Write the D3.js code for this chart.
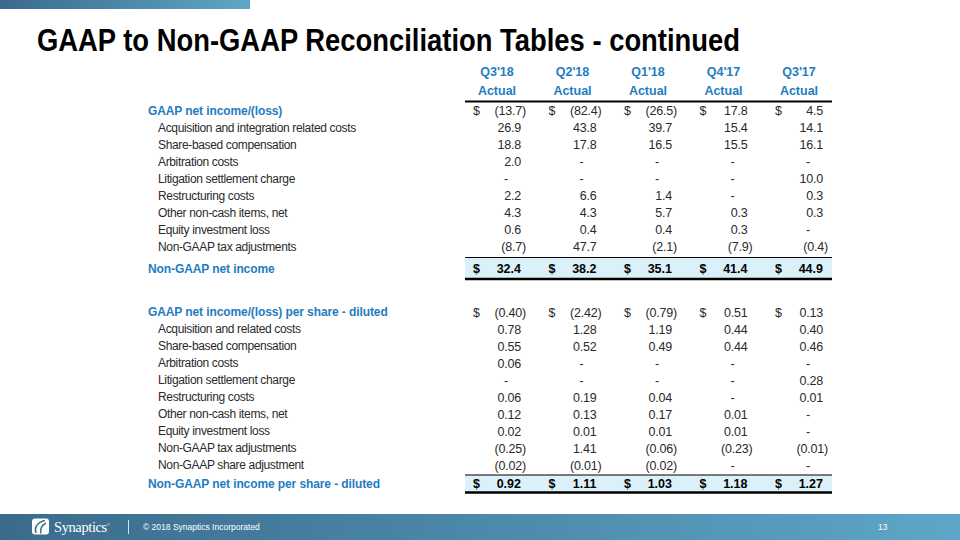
<html>
<head>
  <title>GAAP to Non-GAAP Reconciliation Tables - continued</title>
  <script src="https://d3js.org/d3.v7.min.js"></script>
  <style>
  body { margin: 0; background: #fff; }
  text { font-family: "Liberation Sans", Arial, sans-serif; }
  </style>
</head>
<body>
  <script>

// column headers
var quarters = ["Q3'18", "Q2'18", "Q1'18", "Q4'17", "Q3'17"];

// net income section ($ millions), null = "-"
var incomeLabels = [
  "GAAP net income/(loss)",
  "Acquisition and integration related costs",
  "Share-based compensation",
  "Arbitration costs",
  "Litigation settlement charge",
  "Restructuring costs",
  "Other non-cash items, net",
  "Equity investment loss",
  "Non-GAAP tax adjustments"
];
var incomeQ318 = [-13.7, 26.9, 18.8, 2.0, null, 2.2, 4.3, 0.6, -8.7];
var incomeQ218 = [-82.4, 43.8, 17.8, null, null, 6.6, 4.3, 0.4, 47.7];
var incomeQ118 = [-26.5, 39.7, 16.5, null, null, 1.4, 5.7, 0.4, -2.1];
var incomeQ417 = [17.8, 15.4, 15.5, null, null, null, 0.3, 0.3, -7.9];
var incomeQ317 = [4.5, 14.1, 16.1, null, 10.0, 0.3, 0.3, null, -0.4];
var incomeTotal = [32.4, 38.2, 35.1, 41.4, 44.9];

// per share section
var shareLabels = [
  "GAAP net income/(loss) per share - diluted",
  "Acquisition and related costs",
  "Share-based compensation",
  "Arbitration costs",
  "Litigation settlement charge",
  "Restructuring costs",
  "Other non-cash items, net",
  "Equity investment loss",
  "Non-GAAP tax adjustments",
  "Non-GAAP share adjustment"
];
var shareQ318 = [-0.40, 0.78, 0.55, 0.06, null, 0.06, 0.12, 0.02, -0.25, -0.02];
var shareQ218 = [-2.42, 1.28, 0.52, null, null, 0.19, 0.13, 0.01, 1.41, -0.01];
var shareQ118 = [-0.79, 1.19, 0.49, null, null, 0.04, 0.17, 0.01, -0.06, -0.02];
var shareQ417 = [0.51, 0.44, 0.44, null, null, null, 0.01, 0.01, -0.23, null];
var shareQ317 = [0.13, 0.40, 0.46, null, 0.28, 0.01, null, null, -0.01, null];
var shareTotal = [0.92, 1.11, 1.03, 1.18, 1.27];

var incomeCols = [incomeQ318, incomeQ218, incomeQ118, incomeQ417, incomeQ317];
var shareCols = [shareQ318, shareQ218, shareQ118, shareQ417, shareQ317];

var width = 960,
    height = 540;

var blue = '#1f7cc1',
    ink = '#2a2a2a';

var svg = d3.select('body')
  .append('svg')
  .attr('width', width)
  .attr('height', height);

var defs = svg.append('defs');
var grad = defs.append('linearGradient').attr('id', 'band');
grad.append('stop').attr('offset', '0%').attr('stop-color', '#3a6b8c');
grad.append('stop').attr('offset', '100%').attr('stop-color', '#5ea6c7');

// top strip and title
svg.append('rect')
  .attr('x', 0).attr('y', 0)
  .attr('width', 250).attr('height', 9)
  .attr('fill', 'url(#band)');

svg.append('text')
  .attr('x', 37).attr('y', 51)
  .attr('textLength', 703)
  .attr('lengthAdjust', 'spacingAndGlyphs')
  .style('font-family', '"Liberation Sans Narrow", "Arial Narrow", "Liberation Sans", sans-serif')
  .style('font-size', '32px')
  .style('font-weight', 'bold')
  .attr('fill', '#000')
  .text('GAAP to Non-GAAP Reconciliation Tables - continued');

// scales
var x = d3.scaleBand()
  .domain(quarters)
  .range([465, 842.5]);

var row = d3.scaleLinear()
  .domain([0, 1])
  .range([110.5, 127.5]);

var row2 = d3.scaleLinear()
  .domain([0, 1])
  .range([312, 329]);

var fmt1 = d3.format('.1f'),
    fmt2 = d3.format('.2f');

// headers
var head = svg.append('g');
head.selectAll('text.q')
  .data(quarters)
  .enter()
  .append('text')
  .attr('x', function(d) { return x(d) + 32; })
  .attr('y', 76)
  .attr('text-anchor', 'middle')
  .attr('fill', blue)
  .style('font-size', '12.5px')
  .style('font-weight', 'bold')
  .text(function(d) { return d; });
head.selectAll('text.a')
  .data(quarters)
  .enter()
  .append('text')
  .attr('x', function(d) { return x(d) + 32; })
  .attr('y', 95)
  .attr('text-anchor', 'middle')
  .attr('fill', blue)
  .style('font-size', '12.5px')
  .style('font-weight', 'bold')
  .text('Actual');

svg.append('line')
  .attr('x1', x.range()[0]).attr('x2', 832)
  .attr('y1', 101.5).attr('y2', 101.5)
  .attr('stroke', '#000').attr('stroke-width', 2);

function drawLabels(g, labels, yScale) {
  g.selectAll('text.lbl')
    .data(labels)
    .enter()
    .append('text')
    .attr('x', function(d, i) { return i == 0 ? 148 : 158; })
    .attr('y', function(d, i) { return yScale(i) + 4; })
    .attr('fill', function(d, i) { return i == 0 ? blue : ink; })
    .style('font-size', '12px')
    .style('font-weight', function(d, i) { return i == 0 ? 'bold' : 'normal'; })
    .style('letter-spacing', function(d, i) { return i == 0 ? '-0.1px' : '-0.35px'; })
    .text(function(d) { return d; });
}

function valueText(v, fmt) {
  if (v == null) return '-';
  return v < 0 ? '(' + fmt(-v) + ')' : fmt(v);
}

function valueX(q, v) {
  var r = x(q) + 56;
  if (v == null) return r - 15;
  return v < 0 ? r + 5 : r;
}

function drawValues(g, cols, yScale, fmt) {
  quarters.forEach(function(q, ci) {
    g.selectAll('text.v' + ci)
      .data(cols[ci])
      .enter()
      .append('text')
      .attr('x', function(d) { return valueX(q, d); })
      .attr('y', function(d, i) { return yScale(i) + 4.5; })
      .attr('text-anchor', function(d) { return d == null ? 'middle' : 'end'; })
      .attr('fill', ink)
      .style('font-size', '12.5px')
      .style('letter-spacing', '-0.2px')
      .text(function(d) { return valueText(d, fmt); });
    // dollar sign on first row
    g.append('text')
      .attr('x', x(q) + 8)
      .attr('y', yScale(0) + 4.5)
      .attr('fill', ink)
      .style('font-size', '12.5px')
      .text('$');
  });
}

function drawTotal(label, totals, top, bottom, fmt) {
  var g = svg.append('g');
  var mid = (top + bottom) / 2;
  g.append('rect')
    .attr('x', x.range()[0]).attr('y', top)
    .attr('width', 832 - x.range()[0]).attr('height', bottom - top)
    .attr('fill', '#dcf0f9');
  g.append('line')
    .attr('x1', x.range()[0]).attr('x2', 832)
    .attr('y1', top).attr('y2', top)
    .attr('stroke', '#000').attr('stroke-width', 1.2);
  g.append('line')
    .attr('x1', x.range()[0]).attr('x2', 832)
    .attr('y1', bottom).attr('y2', bottom)
    .attr('stroke', '#000').attr('stroke-width', 2.6);
  g.append('text')
    .attr('x', 148).attr('y', mid + 4.5)
    .attr('fill', blue)
    .style('font-size', '12px')
    .style('font-weight', 'bold')
    .style('letter-spacing', '-0.1px')
    .text(label);
  g.selectAll('text.t')
    .data(totals)
    .enter()
    .append('text')
    .attr('x', function(d, i) { return x(quarters[i]) + 56; })
    .attr('y', mid + 4.5)
    .attr('text-anchor', 'end')
    .attr('fill', '#000')
    .style('font-size', '12.5px')
    .style('font-weight', 'bold')
    .text(function(d) { return fmt(d); });
  g.selectAll('text.d')
    .data(totals)
    .enter()
    .append('text')
    .attr('x', function(d, i) { return x(quarters[i]) + 8; })
    .attr('y', mid + 4.5)
    .attr('fill', '#000')
    .style('font-size', '12.5px')
    .style('font-weight', 'bold')
    .text('$');
}

var sec1 = svg.append('g');
drawLabels(sec1, incomeLabels, row);
drawValues(sec1, incomeCols, row, fmt1);
drawTotal('Non-GAAP net income', incomeTotal, 257.5, 279, fmt1);

var sec2 = svg.append('g');
drawLabels(sec2, shareLabels, row2);
drawValues(sec2, shareCols, row2, fmt2);
drawTotal('Non-GAAP net income per share - diluted', shareTotal, 475, 492.5, fmt2);

// footer band
var foot = svg.append('g');
foot.append('rect')
  .attr('x', 0).attr('y', 514)
  .attr('width', width).attr('height', 26)
  .attr('fill', 'url(#band)');
foot.append('rect')
  .attr('x', 32).attr('y', 518.5)
  .attr('width', 17).attr('height', 16)
  .attr('rx', 3)
  .attr('fill', '#fff');
foot.append('path')
  .attr('d', 'M45,520.5 C37,522 34,528 36,533 M46,523 C41,526 40,530 41,533.5')
  .attr('fill', 'none')
  .attr('stroke', '#3f7495')
  .attr('stroke-width', 1.6);
var brand = foot.append('text')
  .attr('x', 54).attr('y', 532)
  .attr('fill', '#fff')
  .style('font-family', '"Liberation Serif", "DejaVu Serif", serif')
  .style('font-size', '14.5px')
  .style('letter-spacing', '-0.4px');
brand.append('tspan').text('Synaptics');
brand.append('tspan')
  .attr('dy', -6)
  .style('font-size', '4px')
  .text('\u00ae');
foot.append('line')
  .attr('x1', 128.5).attr('x2', 128.5)
  .attr('y1', 520).attr('y2', 534)
  .attr('stroke', '#fff').attr('stroke-width', 0.8);
foot.append('text')
  .attr('x', 143).attr('y', 530)
  .attr('fill', '#fff')
  .style('font-size', '8.5px')
  .text('\u00a9 2018 Synaptics Incorporated');
foot.append('text')
  .attr('x', 878).attr('y', 530)
  .attr('fill', '#fff')
  .style('font-size', '8.5px')
  .text('13');

  </script>
</body>
</html>
